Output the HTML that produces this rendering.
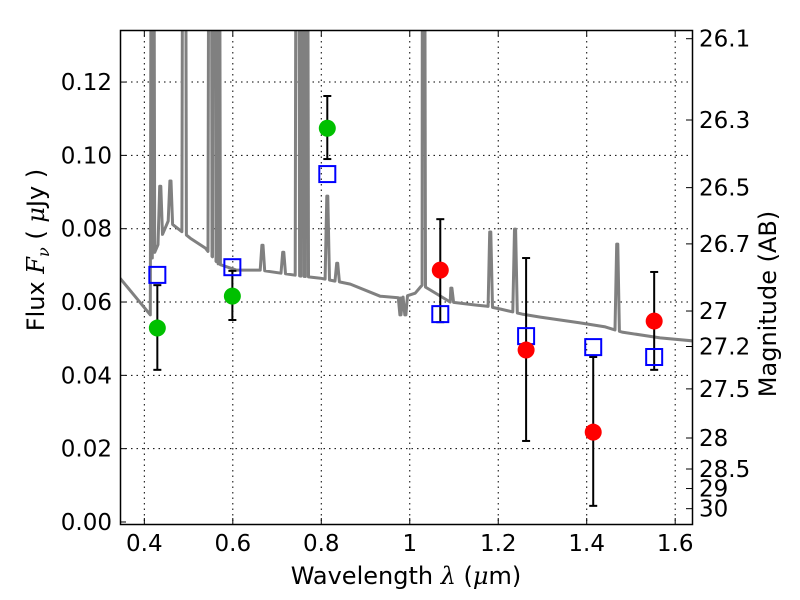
<!DOCTYPE html>
<html><head><meta charset="utf-8"><style>
body{margin:0;background:#fff}
svg{display:block;font-family:"DejaVu Sans","Liberation Sans",sans-serif}
</style></head><body>
<svg width="800" height="600" viewBox="0 0 800 600">
<g id="grid"></g>
<g id="plot"></g>
<rect x="120.5" y="30.5" width="572" height="494" fill="none" stroke="#000" stroke-width="1.5"/>
<g id="axes"></g>
<text x="406" y="584" font-size="24" text-anchor="middle">Wavelength  <tspan font-style="italic" font-family="DejaVu Serif, serif">λ</tspan> (<tspan font-style="italic" font-family="DejaVu Serif, serif">μ</tspan>m)</text>
<text transform="translate(44,250) rotate(-90)" font-size="24" text-anchor="middle">Flux  <tspan font-style="italic" font-family="DejaVu Serif, serif">F</tspan><tspan font-style="italic" font-size="16" dy="5" font-family="DejaVu Serif, serif">ν</tspan><tspan dy="-5">  ( </tspan><tspan font-style="italic" font-family="DejaVu Serif, serif">μ</tspan>Jy )</text>
<text transform="translate(776,304) rotate(-90)" font-size="24" text-anchor="middle">Magnitude (AB)</text>
</svg>
<script>
const xTicks=[0.4,0.6,0.8,1,1.2,1.4,1.6];
const yTicks=[0,0.02,0.04,0.06,0.08,0.10,0.12];
const yTickLabels=["0.00","0.02","0.04","0.06","0.08","0.10","0.12"];
const magTicks=[26.1,26.3,26.5,26.7,27,27.2,27.5,28,28.5,29,30];
const contLam=[0.345,0.4136,0.418,0.454,0.504,0.538,0.567,0.608,0.662,0.7525,0.798,0.8655,0.933,0.9785,1.0124,1.028,1.046,1.0915,1.148,1.173,1.2045,1.254,1.295,1.385,1.442,1.480,1.566,1.64];
const contFlux=[0.0665,0.0565,0.072,0.0821,0.0774,0.0747,0.0704,0.0687,0.0687,0.0671,0.0665,0.0649,0.0616,0.0611,0.0624,0.0646,0.0633,0.06,0.0592,0.0589,0.0581,0.0567,0.0559,0.0543,0.0532,0.0518,0.0502,0.0494];
const lineLam=[0.4185,0.436,0.459,0.490,0.549,0.558,0.567,0.667,0.714,0.746,0.759,0.766,0.8136,0.836,0.979,0.99,1.0305,1.094,1.182,1.238,1.469];
const linePeak=[0.3,0.0916,0.093,0.3,0.3,0.3,0.3,0.0755,0.0736,0.3,0.3,0.3,0.0889,0.0706,0.0565,0.0565,0.3,0.0638,0.0791,0.0799,0.0758];
const greenLam=[0.4294,0.599,0.8136];
const greenFlux=[0.0529,0.0616,0.1074];
const greenLo=[0.0415,0.0551,0.099];
const greenHi=[0.0646,0.0685,0.1162];
const redLam=[1.069,1.263,1.4147,1.5525];
const redFlux=[0.0687,0.0469,0.0245,0.0548];
const redLo=[0.0545,0.0221,0.0044,0.0415];
const redHi=[0.0826,0.072,0.045,0.0682];
const sqLam=[0.4294,0.599,0.8136,1.069,1.263,1.4147,1.5525];
const sqFlux=[0.0674,0.0695,0.0949,0.0567,0.0507,0.0477,0.045];

const X0=120,X1=692,Y0=30,Y1=524,LMIN=0.345,LMAX=1.638,FMIN=-0.00055,FMAX=0.1342;
const xs=l=>X0+(l-LMIN)/(LMAX-LMIN)*(X1-X0);
const ys=f=>Y1-(f-FMIN)/(FMAX-FMIN)*(Y1-Y0);
const NS="http://www.w3.org/2000/svg";
function mk(tag,attrs,parent){const e=document.createElementNS(NS,tag);for(const k in attrs)e.setAttribute(k,attrs[k]);parent.appendChild(e);return e;}
const grid=document.getElementById('grid'),plot=document.getElementById('plot'),axes=document.getElementById('axes');

xTicks.forEach((t,i)=>{const x=xs(t);
 const g=mk('line',{x1:x,x2:x,y1:Y0,y2:Y1,stroke:'#000','stroke-width':1,'stroke-dasharray':'1.5,4'},grid);
 
 
 mk('line',{x1:x,x2:x,y1:Y1,y2:Y1-6,stroke:'#000'},axes);
 mk('line',{x1:x,x2:x,y1:Y0,y2:Y0+6,stroke:'#000'},axes);
 const tx=mk('text',{x:x,y:551,'font-size':23,'text-anchor':'middle'},axes);tx.textContent=String(t);
 
 
});
yTicks.forEach((t,i)=>{const y=ys(t);
 if(i>0){const g=mk('line',{x1:X0,x2:X1,y1:y,y2:y,stroke:'#000','stroke-width':1,'stroke-dasharray':'1.5,4'},grid);
 
 }
 mk('line',{x1:X0,x2:X0+6,y1:y,y2:y,stroke:'#000'},axes);
 const tx=mk('text',{x:112,y:y+8,'font-size':23,'text-anchor':'end'},axes);tx.textContent=yTickLabels[i];
 
 
});
magTicks.forEach(m=>{const f=Math.pow(10,-(m-23.9)/2.5);const y=ys(f);
 mk('line',{x1:X1,x2:X1-6,y1:y,y2:y,stroke:'#000'},axes);
 const tx=mk('text',{x:699,y:y+8,'font-size':23},axes);tx.textContent=String(m);
 
 
});

let pts=contLam.map((l,i)=>[l,contFlux[i]]);
function contAt(l){for(let i=0;i<contLam.length-1;i++){if(l>=contLam[i]&&l<=contLam[i+1]){const t=(l-contLam[i])/(contLam[i+1]-contLam[i]);return contFlux[i]+t*(contFlux[i+1]-contFlux[i]);}}return contFlux[contFlux.length-1];}
lineLam.forEach((l,i)=>{const w=0.005;pts.push([l-w,contAt(l-w)]);pts.push([l-0.0012,linePeak[i]]);pts.push([l+0.0012,linePeak[i]]);pts.push([l+w,contAt(l+w)]);});
pts.sort((a,b)=>a[0]-b[0]);
const cp=mk('clipPath',{id:'clip'},plot);
mk('rect',{x:X0,y:Y0,width:X1-X0,height:Y1-Y0},cp);
const sp=mk('path',{d:pts.map((p,i)=>(i?'L':'M')+xs(p[0]).toFixed(1)+','+ys(p[1]).toFixed(1)).join(''),fill:'none',stroke:'#808080','stroke-width':3,'stroke-linejoin':'round','clip-path':'url(#clip)'},plot);



function errbar(l,lo,hi){const x=xs(l);
 const e=mk('g',{stroke:'#000','stroke-width':2},plot);
 
 
 mk('line',{x1:x,x2:x,y1:ys(lo),y2:ys(hi)},e);
 mk('line',{x1:x-4,x2:x+4,y1:ys(lo),y2:ys(lo)},e);
 mk('line',{x1:x-4,x2:x+4,y1:ys(hi),y2:ys(hi)},e);}
greenLam.forEach((l,i)=>errbar(l,greenLo[i],greenHi[i]));
redLam.forEach((l,i)=>errbar(l,redLo[i],redHi[i]));
sqLam.forEach((l,i)=>{const s=mk('rect',{x:xs(l)-8,y:ys(sqFlux[i])-8,width:16,height:16,fill:'none',stroke:'#0000ff','stroke-width':2},plot);
 
 });
greenLam.forEach((l,i)=>{const c=mk('circle',{cx:xs(l),cy:ys(greenFlux[i]),r:8.5,fill:'#00c000'},plot);
 
 });
redLam.forEach((l,i)=>{const c=mk('circle',{cx:xs(l),cy:ys(redFlux[i]),r:8.5,fill:'#ff0000'},plot);
 
 });
</script>
</body></html>
